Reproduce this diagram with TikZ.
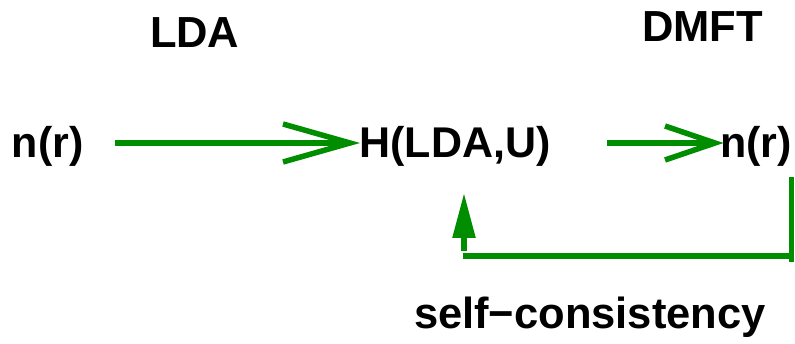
\documentclass[tikz,border=0pt]{standalone}
\usepackage{fontspec}
\setmainfont{Liberation Sans}
\usetikzlibrary{arrows.meta}
\definecolor{flowgreen}{RGB}{0,142,0}
\tikzset{
  lbl/.style={anchor=base west, inner sep=0pt, outer sep=0pt, text=black,
    font=\bfseries\fontsize{43pt}{50pt}\selectfont},
  biglbl/.style={lbl, font=\bfseries\fontsize{43.5pt}{52pt}\selectfont},
  flow/.style={draw=flowgreen, line width=5.5pt, line cap=butt, line join=miter},
  upflow/.style={flow, -{Triangle[length=45pt,width=22pt]}}
}
\begin{document}
\begin{tikzpicture}[x=1pt, y=-1pt]
  \useasboundingbox (0,0) rectangle (795,344);

  % headings
  \node[biglbl] (lda)  at (150,48) {LDA};
  \node[biglbl] (dmft) at (642,42) {DMFT};

  % main row
  \node[lbl] (nin)  at (12,158) {n(r)};
  \node[lbl] (ham)  at (359.5,158) {H(LDA,U)};
  \node[lbl] (nout) at (720,158) {n(r)};

  % loop label
  \node[biglbl] (sc) at (414,329) {self\symbol{"2212}consistency};

  % arrow n(r) -> H(LDA,U)
  \coordinate (a1s) at (115,143);
  \coordinate (a1t) at (350,143);
  \coordinate (a1u) at (283,124);
  \coordinate (a1d) at (283,162);
  \draw[flow] (a1s) -- (a1t);
  \draw[flow] (a1u) -- (a1t) -- (a1d);

  % arrow H(LDA,U) -> n(r)
  \coordinate (a2s) at (607,143);
  \coordinate (a2t) at (715,143);
  \coordinate (a2u) at (665,126);
  \coordinate (a2d) at (665,160);
  \draw[flow] (a2s) -- (a2t);
  \draw[flow] (a2u) -- (a2t) -- (a2d);

  % feedback loop back to H(LDA,U)
  \coordinate (fbTop) at (791.5,177);
  \coordinate (fbBot) at (791.5,262);
  \coordinate (fbR)   at (791.5,256);
  \coordinate (fbL)   at (463,256);
  \coordinate (fbS)   at (464,251);
  \coordinate (fbE)   at (464,193);
  \draw[flow] (fbTop) -- (fbBot);
  \draw[flow] (fbR) -- (fbL);
  \draw[upflow] (fbS) -- (fbE);
\end{tikzpicture}
\end{document}
